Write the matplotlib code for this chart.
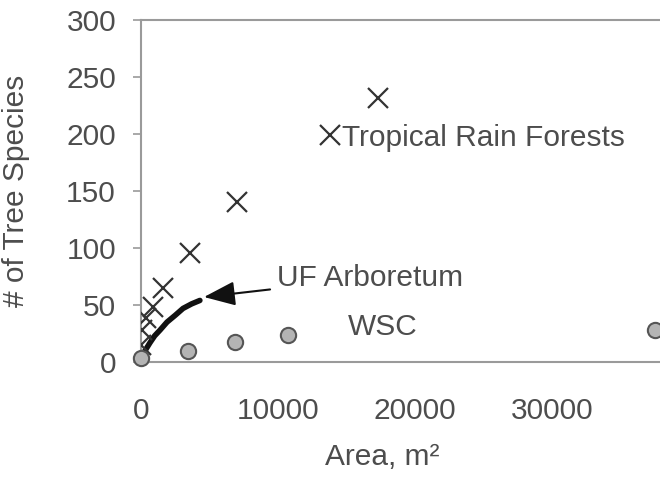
import matplotlib
matplotlib.use("Agg")
import matplotlib.pyplot as plt

# Tropical rain forest plots (area m^2, # species)
trf_area = [0, 70, 370, 880, 1600, 3580, 7000, 13800, 17300]
trf_species = [15, 28, 39, 48, 65, 96, 140, 199, 232]

# WSC plots
wsc_area = [0, 3430, 6860, 10730, 37500]
wsc_species = [3.5, 9.6, 17.5, 23.7, 28]

# UF Arboretum species-area curve
uf_area = [0, 300, 660, 1000, 1390, 1900, 2500, 3070, 3700, 4300]
uf_species = [2, 10, 17, 23, 28, 35, 41, 47, 51, 54]

text_color = "#4d4d4d"
fs = 21.5
plt.rcParams['font.family'] = ['Liberation Sans', 'DejaVu Sans']

fig = plt.figure(figsize=(6.6, 4.78), dpi=100)
ax = fig.add_axes([141 / 660, 116 / 478, 1 - 141 / 660, 342 / 478])

ax.plot(uf_area, uf_species, color="#111111", lw=4, solid_capstyle="round", zorder=3)
ax.plot(trf_area, trf_species, linestyle="none", marker="x", markersize=15,
        markeredgewidth=1.6, color="#333333", zorder=4)
ax.plot(wsc_area, wsc_species, linestyle="none", marker="o", markersize=11,
        markerfacecolor="#b4b4b4", markeredgecolor="#555555", markeredgewidth=1.5,
        zorder=4, clip_on=False)

ax.text(14670, 196.5, "Tropical Rain Forests", fontsize=fs, color=text_color,
        va="center", ha="left")
ax.text(15100, 30.7, "WSC", fontsize=fs, color=text_color, va="center", ha="left")
ax.annotate("UF Arboretum", xy=(4600, 57), xytext=(9930, 73.7), fontsize=fs,
            color=text_color, va="center", ha="left",
            arrowprops=dict(arrowstyle="-|>,head_length=0.9,head_width=0.35",
                            color="#111111", lw=1.5, shrinkA=3, shrinkB=0))

ax.set_xlim(0, 37900)
ax.set_ylim(0, 300)
ax.set_xticks([0, 10000, 20000, 30000])
ax.set_yticks(range(0, 301, 50))

for s in ["left", "top", "bottom"]:
    ax.spines[s].set_color("#9a9a9a")
    ax.spines[s].set_linewidth(1.5)
ax.spines["right"].set_visible(False)

ax.tick_params(axis="y", direction="out", length=6, width=1.2, color="#9a9a9a",
               labelsize=fs, labelcolor=text_color, pad=12)
ax.tick_params(axis="x", length=0, labelsize=fs, labelcolor=text_color, pad=25)

ax.set_ylabel("# of Tree Species", fontsize=fs, color=text_color)
ax.yaxis.set_label_coords(-(141 - 30) / 519, 0.5)
ax.set_xlabel("Area, m\u00b2", fontsize=fs, color=text_color)
ax.xaxis.set_label_coords((382 - 141) / 519, -(443 - 362) / 342)

fig.savefig("out.png", dpi=100)
